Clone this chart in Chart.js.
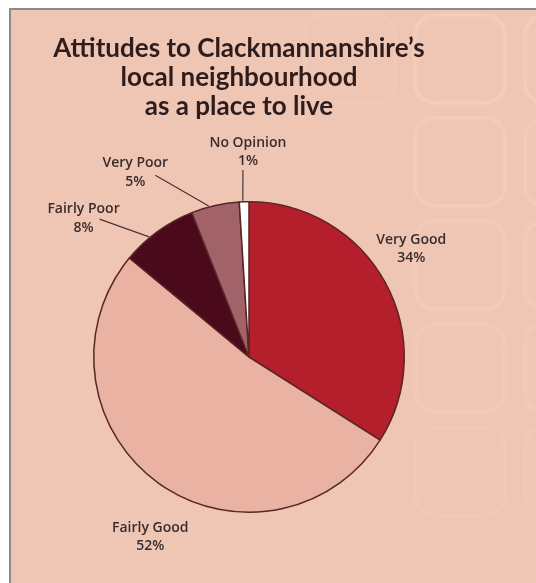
<!DOCTYPE html>
<html>
<head>
<meta charset="utf-8">
<title>Attitudes to Clackmannanshire's local neighbourhood</title>
<script src="https://cdn.jsdelivr.net/npm/chart.js@4.4.1/dist/chart.umd.min.js"></script>
<style>
	html, body { margin: 0; padding: 0; background: #fff; }
	#wrap { width: 536px; height: 583px; }
</style>
</head>
<body>
<div id="wrap"><canvas id="mycanvas" width="536" height="583"></canvas></div>
<script>
var categories = ['Very Good', 'Fairly Good', 'Fairly Poor', 'Very Poor', 'No Opinion'];
var percents = [34, 52, 8, 5, 1];
var sliceColours = ['#b41f2b', '#e9b2a2', '#4b0a1b', '#a1626a', '#ffffff'];
var titleLines = ['Attitudes to Clackmannanshire\u2019s', 'local neighbourhood', 'as a place to live'];

// label spot per slice: [degrees away from slice middle, distance from pie centre]
var labelSpots = [[-4.9, 195], [-7.2, 205], [-14, 216], [-19, 217], [1.5, 205]];
// leader line start, relative to the label centre (null = no line)
var leaders = [null, null, [16, 1], [20, 3], [-5, 18]];

// peach page with the frame and the faint rounded squares
var backdrop = {
	id: 'backdrop',
	beforeDraw: function(chart) {
		var ctx = chart.ctx;
		ctx.save();
		ctx.fillStyle = '#ffffff';
		ctx.fillRect(0, 0, 536, 583);
		ctx.fillStyle = '#8a8a8a';
		ctx.fillRect(9, 8, 527, 575);
		ctx.fillStyle = '#efc6b4';
		ctx.fillRect(11, 10, 525, 573);

		ctx.filter = 'blur(1.2px)';
		ctx.lineWidth = 3;
		var cols = [305, 415, 525];
		for (var c = 0; c < cols.length; c++) {
			for (var r = 0; r < 6; r++) {
				var a = 0.38 - r * 0.055;
				if (c == 0) a = r < 1 ? 0.16 : 0;
				if (a <= 0) continue;
				ctx.strokeStyle = 'rgba(250, 224, 212, ' + a + ')';
				ctx.beginPath();
				ctx.roundRect(cols[c], 15 + r * 103, 90, 88, 20);
				ctx.stroke();
			}
		}
		ctx.restore();
	}
};

// title lines, squeezed to the width of the heading
var heading = {
	id: 'heading',
	afterDraw: function(chart) {
		var ctx = chart.ctx;
		ctx.save();
		ctx.font = 'bold 26px Lato';
		ctx.fillStyle = '#2f1d1d';
		ctx.textAlign = 'center';
		ctx.textBaseline = 'alphabetic';
		var squeeze = Math.min(1, 392 / ctx.measureText(titleLines[0]).width);
		for (var i = 0; i < titleLines.length; i++) {
			ctx.save();
			ctx.translate(239, 57 + i * 29);
			ctx.scale(squeeze, 1);
			ctx.fillText(titleLines[i], 0, 0);
			ctx.restore();
		}
		ctx.restore();
	}
};

// category + percent labels with leader lines, placed from each arc
var sliceLabels = {
	id: 'sliceLabels',
	afterDatasetsDraw: function(chart) {
		var ctx = chart.ctx;
		var arcs = chart.getDatasetMeta(0).data;
		ctx.save();
		ctx.font = '600 14px "Open Sans"';
		ctx.fillStyle = '#3a2c2c';
		ctx.strokeStyle = '#4a3434';
		ctx.lineWidth = 1.2;
		ctx.textAlign = 'center';
		ctx.textBaseline = 'middle';
		for (var i = 0; i < arcs.length; i++) {
			var p = arcs[i].getProps(['x', 'y', 'startAngle', 'endAngle', 'outerRadius'], true);
			var mid = (p.startAngle + p.endAngle) / 2 + labelSpots[i][0] * Math.PI / 180;
			var lx = p.x + labelSpots[i][1] * Math.cos(mid);
			var ly = p.y + labelSpots[i][1] * Math.sin(mid);
			ctx.fillText(categories[i], lx, ly - 9);
			ctx.fillText(percents[i] + '%', lx, ly + 9.5);
			if (leaders[i]) {
				var ea = p.startAngle + 0.37 * (p.endAngle - p.startAngle);
				ctx.beginPath();
				ctx.moveTo(lx + leaders[i][0], ly + leaders[i][1]);
				ctx.lineTo(p.x + (p.outerRadius + 1) * Math.cos(ea), p.y + (p.outerRadius + 1) * Math.sin(ea));
				ctx.stroke();
			}
		}
		ctx.restore();
	}
};

var chartdata = {
	labels: categories,
	datasets: [{
		data: percents,
		backgroundColor: sliceColours,
		borderColor: '#5a2626',
		borderWidth: 1.5
	}]
};

var ctx = document.getElementById('mycanvas');

var pieChart = new Chart(ctx, {
	type: 'pie',
	data: chartdata,
	options: {
		responsive: false,
		animation: false,
		layout: { padding: { left: 93, right: 131, top: 201, bottom: 70 } },
		plugins: {
			legend: { display: false },
			tooltip: { enabled: false }
		}
	},
	plugins: [backdrop, heading, sliceLabels]
});
</script>
</body>
</html>
